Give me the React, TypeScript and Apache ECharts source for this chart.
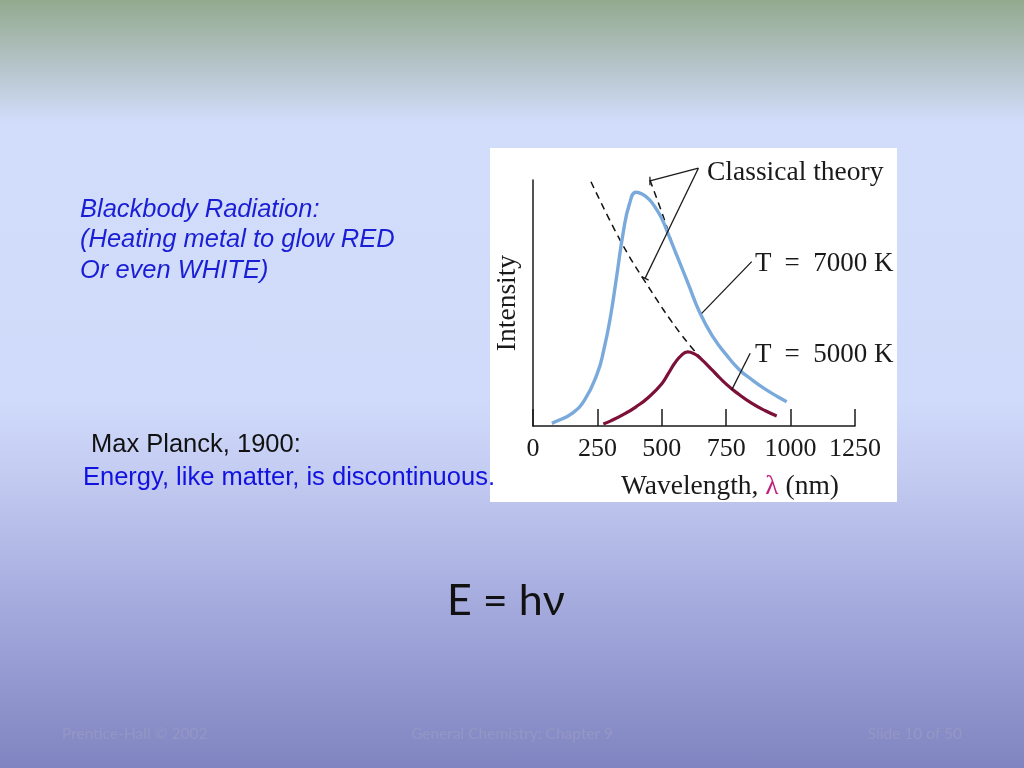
import React, { useEffect, useRef } from "react";
import * as echarts from "echarts";

// ---- data ----
const xTickValues = [0, 250, 500, 750, 1000, 1250];

const wavelength7000 = [73, 100, 150, 200, 250, 275, 300, 325, 350, 375, 400, 425, 450, 475, 500, 525, 550, 600, 650, 700, 750, 800, 850, 900, 950, 985];
const intensity7000 = [1.1, 2.3, 5, 10.5, 21.5, 31, 44, 61, 78.5, 90.5, 95, 94.2, 92.2, 88.8, 84.3, 78, 71.5, 58.5, 45.5, 36, 29, 23, 18.8, 15.1, 11.9, 9.9];

const wavelength5000 = [273, 300, 350, 400, 450, 500, 525, 550, 575, 600, 625, 650, 700, 750, 800, 850, 900, 946];
const intensity5000 = [0.8, 2, 4.6, 7.8, 11.8, 17.2, 21.3, 25.5, 28.6, 30.1, 29.4, 27.5, 22.3, 17, 12.8, 9.2, 6.3, 4.1];

const wavelengthClassical5000 = [225, 338, 435, 582, 735];
const intensityClassical5000 = [99.3, 75.6, 58.7, 36.3, 18];

const wavelengthClassical7000 = [454, 506, 558];
const intensityClassical7000 = [100, 85.1, 68.5];

// annotation leader lines, in data coordinates
const classicalApex = [642, 104.8];
const classicalEndA = [454, 99.6];
const classicalTickA = [[454, 101.3], [454, 97.9]];
const classicalEndB = [435, 60];
const classicalTickB = [[422, 60.7], [449, 59.3]];
const leader7000 = [[849, 66.8], [655, 45.8]];
const leader5000 = [[843, 29.6], [771, 14.6]];

const pair = (xs: number[], ys: number[]) => xs.map((x, i) => [x, ys[i]]);

export default function App() {
  const ref = useRef<HTMLDivElement>(null);

  useEffect(() => {
    const chart = echarts.init(ref.current!, null, { renderer: "svg" });
    const serif = "'Liberation Serif', 'Times New Roman', serif";
    const sans = "'Liberation Sans', Arial, sans-serif";
    const lato = "Lato, 'Open Sans', sans-serif";
    const ink = "#1a1a1a";

    chart.setOption({
      animation: false,
      grid: { left: 533, top: 180, right: 169, bottom: 342, containLabel: false },
      xAxis: {
        type: "value",
        min: 0,
        max: 1250,
        interval: 250,
        axisLine: { show: true, lineStyle: { color: ink, width: 1.5 } },
        axisTick: { show: true, inside: true, length: 17, lineStyle: { color: ink, width: 1.5 } },
        axisLabel: {
          margin: 8,
          fontFamily: serif,
          fontSize: 26,
          color: ink,
          formatter: (v: number) => (xTickValues.includes(v) ? String(v) : ""),
        },
        splitLine: { show: false },
        name: "{a|Wavelength, }{l|λ}{a| (nm)}",
        nameLocation: "middle",
        nameGap: 44,
        nameTextStyle: {
          padding: [0, 0, 0, 72],
          rich: {
            a: { fontFamily: serif, fontSize: 27.5, color: ink },
            l: { fontFamily: serif, fontSize: 27.5, color: "#c21f7d" },
          },
        },
      },
      yAxis: {
        type: "value",
        min: 0,
        max: 100,
        axisLine: { show: true, lineStyle: { color: ink, width: 1.5 } },
        axisTick: { show: false },
        axisLabel: { show: false },
        splitLine: { show: false },
        name: "Intensity",
        nameLocation: "middle",
        nameRotate: 90,
        nameGap: 14,
        nameTextStyle: { fontFamily: serif, fontSize: 27.5, color: ink },
      },
      series: [
        {
          name: "T = 7000 K",
          type: "line",
          smooth: 0.5,
          showSymbol: false,
          data: pair(wavelength7000, intensity7000),
          lineStyle: { color: "#7aaadc", width: 3.4 },
          itemStyle: { color: "#7aaadc" },
          z: 3,
        },
        {
          name: "T = 5000 K",
          type: "line",
          smooth: 0.5,
          showSymbol: false,
          data: pair(wavelength5000, intensity5000),
          lineStyle: { color: "#7d1038", width: 3.2 },
          itemStyle: { color: "#7d1038" },
          z: 3,
        },
        {
          name: "Classical 5000",
          type: "line",
          smooth: 0.4,
          showSymbol: false,
          data: pair(wavelengthClassical5000, intensityClassical5000),
          lineStyle: { color: "#111", width: 1.5, type: [7, 5] },
          z: 2,
        },
        {
          name: "Classical 7000",
          type: "line",
          smooth: 0.3,
          showSymbol: false,
          data: pair(wavelengthClassical7000, intensityClassical7000),
          lineStyle: { color: "#111", width: 1.5, type: [7, 5] },
          z: 2,
        },
      ],
    });

    const px = (p: number[]) => chart.convertToPixel({ gridIndex: 0 }, p) as number[];
    const seg = (a: number[], b: number[], w = 1.3) => {
      const pa = px(a);
      const pb = px(b);
      return {
        type: "line",
        z: 20,
        silent: true,
        shape: { x1: pa[0], y1: pa[1], x2: pb[0], y2: pb[1] },
        style: { stroke: ink, lineWidth: w },
      };
    };
    const txt = (text: string, x: number, y: number, o: any) => ({
      type: "text",
      x,
      y,
      z: 20,
      silent: true,
      style: {
        text,
        fill: o.fill,
        fontSize: o.size,
        fontFamily: o.family,
        fontStyle: o.style || "normal",
        textAlign: o.align || "left",
        align: o.align || "left",
        textVerticalAlign: "middle",
        verticalAlign: "middle",
      },
    });

    const slideBlue = "#1a1ed4";
    const footer = "#9497c4";

    chart.setOption({
      graphic: {
        elements: [
          {
            type: "rect",
            z: -20,
            silent: true,
            shape: { x: 0, y: 0, width: 1024, height: 768 },
            style: {
              fill: new echarts.graphic.LinearGradient(0, 0, 0, 1, [
                { offset: 0, color: "#93aa8e" },
                { offset: 0.07, color: "#afbfbf" },
                { offset: 0.16, color: "#d2ddfb" },
                { offset: 0.52, color: "#d0dbfb" },
                { offset: 0.62, color: "#c3cbf1" },
                { offset: 0.8, color: "#a3a8dc" },
                { offset: 1, color: "#8084c0" },
              ]),
            },
          },
          {
            type: "rect",
            z: -10,
            silent: true,
            shape: { x: 490, y: 148, width: 407, height: 354 },
            style: { fill: "#ffffff" },
          },
          seg(classicalApex, classicalEndA),
          seg(classicalTickA[0], classicalTickA[1]),
          seg(classicalApex, classicalEndB),
          seg(classicalTickB[0], classicalTickB[1]),
          seg(leader7000[0], leader7000[1]),
          seg(leader5000[0], leader5000[1]),
          txt("Classical theory", 707, 170, { fill: ink, size: 27.5, family: serif }),
          txt("T  =  7000 K", 755, 262, { fill: ink, size: 27, family: serif }),
          txt("T  =  5000 K", 755, 353, { fill: ink, size: 27, family: serif }),
          txt("Blackbody Radiation:", 80, 208, { fill: slideBlue, size: 25.5, family: sans, style: "italic" }),
          txt("(Heating metal to glow RED", 80, 238, { fill: slideBlue, size: 25.5, family: sans, style: "italic" }),
          txt("Or even WHITE)", 80, 269, { fill: slideBlue, size: 25.5, family: sans, style: "italic" }),
          txt("Max Planck, 1900:", 91, 443, { fill: "#111111", size: 25.5, family: sans }),
          txt("Energy, like matter, is discontinuous.", 83, 476, { fill: "#1212e0", size: 25.5, family: sans }),
          txt("E = hν", 447, 598, { fill: "#111111", size: 43, family: lato }),
          txt("Prentice-Hall © 2002", 62, 733, { fill: footer, size: 15.5, family: lato }),
          txt("General Chemistry: Chapter 9", 512, 733, { fill: footer, size: 15.5, family: lato, align: "center" }),
          txt("Slide 10 of 50", 962, 733, { fill: footer, size: 15.5, family: lato, align: "right" }),
        ],
      },
    });

    return () => chart.dispose();
  }, []);

  return (
    <div
      ref={ref}
      style={{ position: "fixed", left: 0, top: 0, width: 1024, height: 768 }}
    />
  );
}
